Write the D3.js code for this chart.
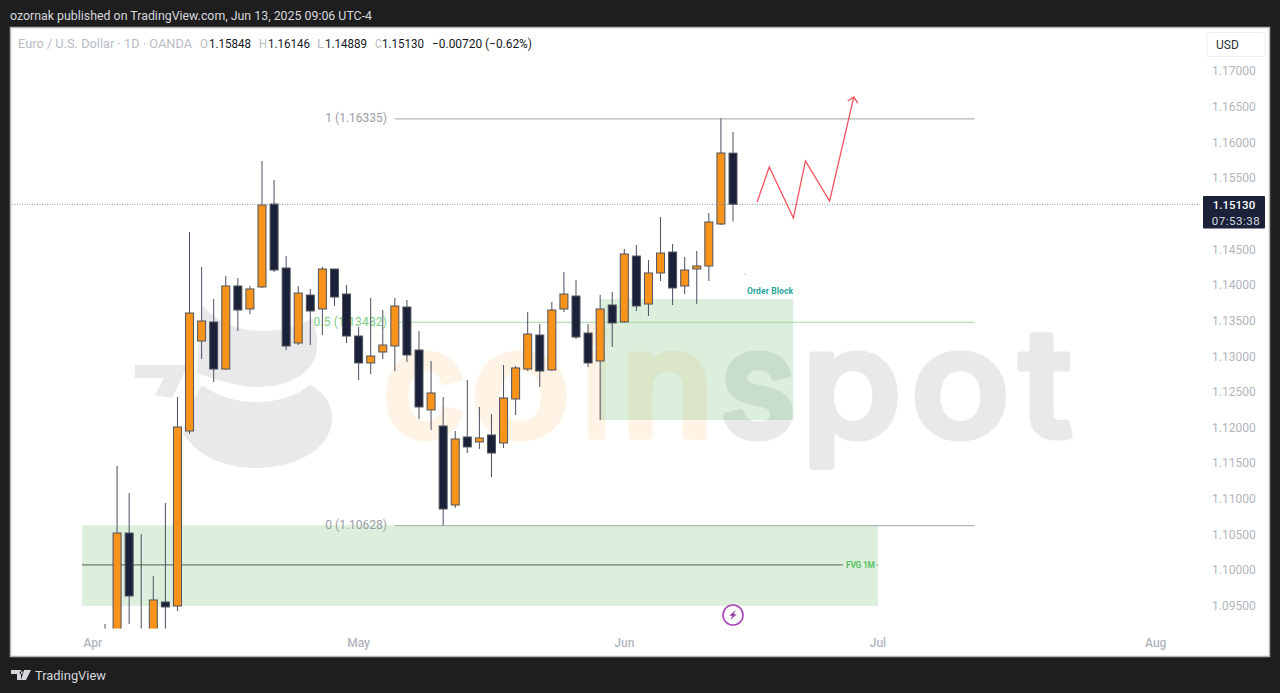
<!DOCTYPE html>
<html><head><meta charset="utf-8">
<script src="https://cdn.jsdelivr.net/npm/d3@7/dist/d3.min.js"></script>
<style>
html,body{margin:0;padding:0;background:#1e1e1e;overflow:hidden}
svg{display:block;font-family:Roboto,"Liberation Sans",sans-serif}
</style></head><body><svg id="c" width="1280" height="693"></svg>
<script>
const dates=["Apr 2","Apr 3","Apr 4","Apr 7","Apr 8","Apr 9","Apr 10","Apr 11","Apr 14","Apr 15","Apr 16","Apr 17","Apr 18","Apr 21","Apr 22","Apr 23","Apr 24","Apr 25","Apr 28","Apr 29","Apr 30","May 1","May 2","May 5","May 6","May 7","May 8","May 9","May 12","May 13","May 14","May 15","May 16","May 19","May 20","May 21","May 22","May 23","May 26","May 27","May 28","May 29","May 30","Jun 2","Jun 3","Jun 4","Jun 5","Jun 6","Jun 9","Jun 10","Jun 11","Jun 12","Jun 13"];
const open=[1.0790,1.0850,1.1052,1.0905,1.0905,1.09553,1.09497,1.11951,1.13213,1.13480,1.12820,1.13985,1.13662,1.13971,1.15135,1.14237,1.13185,1.13858,1.13662,1.14223,1.13872,1.13283,1.12905,1.13059,1.13143,1.13690,1.13087,1.12246,1.12021,1.10913,1.11867,1.11797,1.11895,1.11783,1.12400,1.12820,1.13297,1.12807,1.13662,1.13844,1.13325,1.12933,1.13718,1.13480,1.14405,1.13732,1.14167,1.14461,1.13985,1.14223,1.14265,1.14854,1.15848];
const high=[1.09244,1.1146,1.11081,1.10506,1.09917,1.10941,1.12428,1.14742,1.14251,1.13802,1.14125,1.14097,1.13985,1.15738,1.15471,1.14405,1.13985,1.13943,1.14251,1.14223,1.13999,1.13410,1.13816,1.13648,1.13816,1.13788,1.13353,1.12933,1.12428,1.11951,1.12666,1.12288,1.12189,1.12877,1.12863,1.13620,1.13452,1.13760,1.14181,1.14069,1.13452,1.13858,1.13900,1.14504,1.14560,1.14349,1.14952,1.14574,1.14391,1.14475,1.15008,1.16335,1.16146];
const low=[1.0780,1.0830,1.09244,1.0880,1.0885,1.0890,1.09426,1.11909,1.12961,1.12638,1.12807,1.13353,1.13592,1.13957,1.14181,1.13087,1.13157,1.13157,1.13297,1.13704,1.13185,1.12666,1.12750,1.12961,1.12792,1.12919,1.12119,1.11965,1.10628,1.10871,1.11642,1.11699,1.11306,1.11713,1.12175,1.12792,1.12568,1.12792,1.13620,1.13241,1.12849,1.12105,1.13129,1.13466,1.13634,1.13564,1.14055,1.13718,1.13872,1.13732,1.14055,1.14840,1.14889];
const close=[1.0850,1.1052,1.09637,1.0900,1.09581,1.09483,1.12007,1.13606,1.13494,1.12820,1.13985,1.13648,1.13943,1.15121,1.14209,1.13143,1.13886,1.13634,1.14223,1.13830,1.13283,1.12905,1.13003,1.13157,1.13704,1.13017,1.12288,1.12484,1.10857,1.11839,1.11727,1.11853,1.11642,1.12414,1.12835,1.13311,1.12792,1.13648,1.13872,1.13269,1.12905,1.13662,1.13466,1.14433,1.13704,1.14167,1.14447,1.13957,1.14209,1.14265,1.14882,1.15850,1.15130];
const priceTicks=[1.095,1.10,1.105,1.11,1.115,1.12,1.125,1.13,1.135,1.14,1.145,1.155,1.16,1.165,1.17];
const monthIdx=[-1,21,43,64,87];
const monthLabels=["Apr","May","Jun","Jul","Aug"];
const fibStart=24,fibEnd=72;
const fibLevels=[1.16335,1.13482,1.10628];
const fibLabels=["1 (1.16335)","0.5 (1.13482)","0 (1.10628)"];
const forecastIdx=[54,55,57,58,60,62];
const forecastPrice=[1.15163,1.15654,1.14938,1.15738,1.15177,1.16635];
const obIdx=[41,57],obPrice=[1.13802,1.12105];
const fvgIdx=[-1.9,64],fvgPrice=[1.10628,1.09497],fvgMid=1.10072,fvgLineEnd=61.1;
const lastClose=1.15130;
const legendParts=[["Euro / U.S. Dollar · 1D · OANDA",18,192,"#b8bbc4"],["O",200,208,"#b8bbc4"],["1.15848",209,251,"#131722"],["H",259,267,"#b8bbc4"],["1.16146",268,310,"#131722"],["L",317,324,"#b8bbc4"],["1.14889",325,367,"#131722"],["C",375,382,"#b8bbc4"],["1.15130",382,424,"#131722"],["−0.00720 (−0.62%)",432,532,"#131722"]];

const ORANGE="#f7931a",NAVY="#1a2138",EDGE="#50535f",WICK="#4a4e62";
const svg=d3.select("#c");
const x=d3.scaleLinear().domain([0,52]).range([105,733]);
const y=d3.scaleLinear().domain([1.17,1.095]).range([71,605.75]);

// frame
svg.append("rect").attr("x",10.5).attr("y",27.5).attr("width",1259).attr("height",629).attr("fill","#fff").attr("stroke","#b5b5b5").attr("stroke-width",1.5);
const defs=svg.append("defs");
defs.append("clipPath").attr("id","pane").append("rect").attr("x",12).attr("y",29).attr("width",1188).attr("height",599.5);

svg.append("text").attr("x",10).attr("y",20).attr("font-size",12.5).attr("fill","#d6d8de").attr("textLength",362).attr("lengthAdjust","spacingAndGlyphs").text("ozornak published on TradingView.com, Jun 13, 2025 09:06 UTC-4");

// watermark
const wm=svg.append("g").attr("clip-path","url(#pane)");
wm.append("path").attr("fill","#e9e9ec").attr("d","M203,305C215,322 240,331 262,331C285,331 300,326 312,318C316,328 318,338 317,347C316,372 290,387 258,387C235,387 212,378 197,373C198,350 200,325 203,305Z");
wm.append("path").attr("fill","#e9e9ec").attr("d","M202,385C220,398 240,402 255,402C280,402 298,395 310,385C325,392 332,405 332,418C332,448 298,468 255,468C220,468 195,452 183,434C186,415 194,398 202,385Z");
wm.append("path").attr("fill","#e9e9ec").attr("d","M135,365L188,365L172,398L155,395L164,378L135,378Z");
const wmLetters=["c","o","i","n","s","p","o","t"];
const wmLeft=[385,474,585,628,723,809,914,1017];
const wmWidth=[78,93,23,79,70,89,92,56];
const wmColor=["#fff3e6","#fff3e6","#fff3e6","#fff3e6","#e9e9ec","#e9e9ec","#e9e9ec","#e9e9ec"];
const ctx=document.createElement("canvas").getContext("2d");
const wmFont=148,wmStroke=7;
ctx.font=`500 ${wmFont}px Inter`;
wmLetters.forEach((ch,i)=>{
  const m=ctx.measureText(ch);
  const ink=m.actualBoundingBoxLeft+m.actualBoundingBoxRight;
  const s=(wmWidth[i]-wmStroke)/ink;
  const tx=wmLeft[i]+wmStroke/2+m.actualBoundingBoxLeft*s;
  wm.append("text").attr("transform",`translate(${tx},${439-wmStroke/2}) scale(${s},1)`)
    .attr("fill",wmColor[i]).attr("stroke",wmColor[i]).attr("stroke-width",wmStroke).attr("stroke-linejoin","round")
    .attr("font-family","Inter").attr("font-weight",500).attr("font-size",wmFont).text(ch);
});

// zones
const chart=svg.append("g").attr("clip-path","url(#pane)");
chart.append("rect").attr("x",x(obIdx[0])).attr("y",y(obPrice[0])).attr("width",x(obIdx[1])-x(obIdx[0])).attr("height",y(obPrice[1])-y(obPrice[0])).attr("fill","rgba(76,175,80,0.2)");
chart.append("rect").attr("x",x(fvgIdx[0])).attr("y",y(fvgPrice[0])).attr("width",x(fvgIdx[1])-x(fvgIdx[0])).attr("height",y(fvgPrice[1])-y(fvgPrice[0])).attr("fill","rgba(76,175,80,0.2)");
chart.append("line").attr("x1",x(fvgIdx[0])).attr("x2",x(fvgLineEnd)).attr("y1",y(fvgMid)).attr("y2",y(fvgMid)).attr("stroke","#6f7a6f").attr("stroke-width",1.3);
chart.append("line").attr("x1",x(63.9)).attr("x2",x(fvgIdx[1])).attr("y1",y(fvgMid)).attr("y2",y(fvgMid)).attr("stroke","#6f7a6f");
chart.append("text").attr("x",846).attr("y",y(fvgMid)+3).attr("font-size",8.5).attr("font-weight",700).attr("fill","#5cc064").attr("textLength",29).text("FVG 1M");
chart.append("text").attr("x",747).attr("y",294).attr("font-size",8.5).attr("font-weight",700).attr("fill","#26a69a").attr("textLength",46).text("Order Block");
chart.append("circle").attr("cx",745).attr("cy",274).attr("r",0.7).attr("fill","#f7a8b0");

// fib
const fibColors=["#b5b5b8","#a5d6a7","#b5b5b8"],fibText=["#9a9da6","#7ccb7f","#9a9da6"],fibSpacing=[0,0.15,0];
fibLevels.forEach((v,i)=>{
  chart.append("line").attr("x1",x(fibStart)).attr("x2",x(fibEnd)).attr("y1",y(v)+0.4).attr("y2",y(v)+0.4).attr("stroke",fibColors[i]).attr("stroke-width",1.2);
  chart.append("text").attr("x",387).attr("y",y(v)+4).attr("text-anchor","end").attr("font-size",12).attr("letter-spacing",fibSpacing[i]).attr("fill",fibText[i]).text(fibLabels[i]);
});

// candles
const bars=dates.map((d,i)=>({d,i,o:open[i],h:high[i],l:low[i],c:close[i]}));
const g=chart.selectAll("g.bar").data(bars).join("g").attr("class","bar");
g.append("line").attr("x1",d=>x(d.i)).attr("x2",d=>x(d.i)).attr("y1",d=>y(d.h)).attr("y2",d=>y(d.l)).attr("stroke",WICK).attr("stroke-width",1);
g.append("rect").attr("x",d=>x(d.i)-4).attr("width",8).attr("y",d=>y(Math.max(d.o,d.c))).attr("height",d=>Math.max(1,Math.abs(y(d.o)-y(d.c))))
 .attr("fill",d=>d.c>=d.o?ORANGE:NAVY).attr("stroke",EDGE).attr("stroke-width",1);

// last price
chart.append("line").attr("x1",12).attr("x2",1200).attr("y1",y(lastClose)).attr("y2",y(lastClose)).attr("stroke","#8a8d96").attr("stroke-width",1).attr("stroke-dasharray","1 1.5");

// forecast
chart.append("path").datum(forecastIdx.map((v,i)=>[v,forecastPrice[i]])).attr("fill","none").attr("stroke","#f7525f").attr("stroke-width",1.3)
  .attr("d",d3.line().x(d=>x(d[0])).y(d=>y(d[1])));
const tipX=x(forecastIdx[5]),tipY=y(forecastPrice[5]);
chart.append("path").attr("fill","none").attr("stroke","#f7525f").attr("stroke-width",1.3).attr("d",`M${tipX-6},${tipY+4}L${tipX},${tipY}L${tipX+4},${tipY+6}`);

// lightning
const bolt=svg.append("g").attr("transform",`translate(${x(52)},615)`);
bolt.append("circle").attr("r",10).attr("fill","#fff").attr("stroke","#ab47bc").attr("stroke-width",1.6);
bolt.append("path").attr("fill","#8e3fa8").attr("d","M2.8,-5L-3.8,0.8H-0.6L-2.8,5L3.8,-0.8H0.6Z");

// axes
const ya=d3.axisRight(y).tickValues(priceTicks).tickSize(0).tickPadding(0).tickFormat(d3.format(".5f"));
const yg=svg.append("g").attr("transform","translate(1212,0)").call(ya);
yg.select(".domain").remove();
yg.selectAll("text").attr("font-size",12).attr("fill","#b2b5be").attr("font-family","Roboto");
const xa=d3.axisBottom(x).tickValues(monthIdx).tickSize(0).tickPadding(0).tickFormat((d,i)=>monthLabels[i]);
const xg=svg.append("g").attr("transform","translate(-0.5,638)").call(xa);
xg.select(".domain").remove();
xg.selectAll("text").attr("font-size",12).attr("font-weight",500).attr("fill","#b2b5be").attr("font-family","Roboto");

// USD box + price tag
svg.append("rect").attr("x",1207).attr("y",32.5).attr("width",58).attr("height",24).attr("rx",2).attr("fill","#fff").attr("stroke","#eeeeee");
svg.append("text").attr("x",1216).attr("y",49).attr("font-size",12).attr("fill","#2a2e39").text("USD");
svg.append("rect").attr("x",1203).attr("y",196).attr("width",62).attr("height",32.5).attr("rx",1).attr("fill",NAVY);
svg.append("text").attr("x",1234).attr("y",209).attr("text-anchor","middle").attr("font-size",11.5).attr("font-weight",500).attr("fill","#fff").text(d3.format(".5f")(lastClose));
svg.append("text").attr("x",1236).attr("y",224.5).attr("text-anchor","middle").attr("font-size",11.5).attr("fill","#d8dae0").attr("letter-spacing",0.5).text("07:53:38");

// legend
legendParts.forEach(p=>{
  svg.append("text").attr("x",p[1]).attr("y",48).attr("font-size",12).attr("fill",p[3]).attr("textLength",p[2]-p[1]).attr("lengthAdjust","spacingAndGlyphs").text(p[0]);
});

// footer
svg.append("path").attr("fill","#d6d8de").attr("d","M11,670H21V680H17V674H11ZM24,670H31L26,680H21Z M19.5,672.5a1.6,1.6 0 1,0 3.2,0a1.6,1.6 0 1,0 -3.2,0");
svg.append("text").attr("x",35).attr("y",680).attr("font-size",13.5).attr("fill","#d6d8de").attr("textLength",71).attr("lengthAdjust","spacingAndGlyphs").text("TradingView");
</script></body></html>
